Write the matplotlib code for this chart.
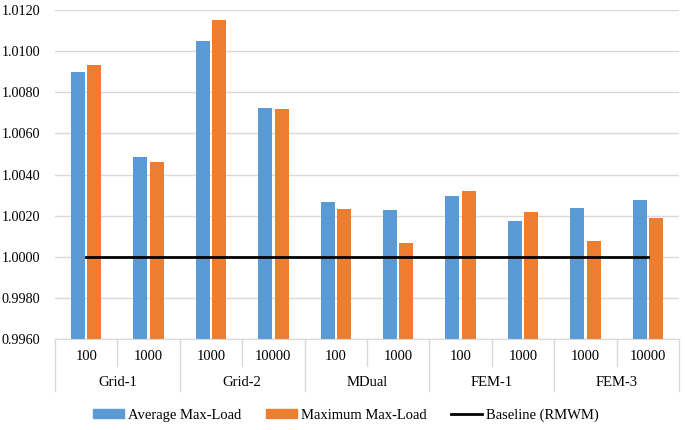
import matplotlib
matplotlib.use('Agg')
import matplotlib.pyplot as plt
import matplotlib.transforms as mtransforms
from matplotlib.patches import Patch
from matplotlib.lines import Line2D
import numpy as np

groups = ["Grid-1", "Grid-2", "MDual", "FEM-1", "FEM-3"]
sizes = ["100", "1000", "1000", "10000", "100", "1000", "100", "1000", "1000", "10000"]
average_max_load = [1.00900, 1.00485, 1.01048, 1.00724, 1.00268, 1.00227,
                    1.00297, 1.00172, 1.00238, 1.00276]
maximum_max_load = [1.00933, 1.00462, 1.01153, 1.00720, 1.00232, 1.00068,
                    1.00320, 1.00217, 1.00079, 1.00190]
baseline = 1.0
y_ticks = [0.9960, 0.9980, 1.0000, 1.0020, 1.0040, 1.0060, 1.0080, 1.0100, 1.0120]

plt.rcParams['font.family'] = ['Liberation Serif', 'DejaVu Serif']

BLUE = '#5B9BD5'
ORANGE = '#ED7D31'
GRID = '#D9D9D9'
FS = 10.5

fig = plt.figure(figsize=(6.85, 4.30), dpi=100)
ax = fig.add_axes([55 / 685, 1 - 339 / 430, 624 / 685, 329 / 430])

x = np.arange(len(sizes))
w = 0.225
gap = 0.04
ax.bar(x - (w + gap) / 2, np.array(average_max_load) - y_ticks[0], w,
       bottom=y_ticks[0], color=BLUE, zorder=2)
ax.bar(x + (w + gap) / 2, np.array(maximum_max_load) - y_ticks[0], w,
       bottom=y_ticks[0], color=ORANGE, zorder=2)
ax.plot([x[0], x[-1]], [baseline, baseline], color='black', lw=2, zorder=3)

ax.set_xlim(-0.5, len(sizes) - 0.5)
ax.set_ylim(y_ticks[0], y_ticks[-1])
ax.set_yticks(y_ticks)
ax.set_yticklabels([f"{v:.4f}" for v in y_ticks], fontsize=10.2, color='black')
ax.set_xticks([])
ax.tick_params(axis='y', length=0, pad=10.5)
ax.grid(axis='y', color=GRID, lw=1, zorder=0)
for s in ['top', 'right', 'left']:
    ax.spines[s].set_visible(False)
ax.spines['bottom'].set_color(GRID)

# two-level category axis
trans = mtransforms.blended_transform_factory(ax.transData, ax.transAxes)
px = 1 / 329
for i, lab in enumerate(sizes):
    ax.text(i, -17 * px, lab, transform=trans, ha='center', va='center',
            fontsize=FS, color='black')
for j, g in enumerate(groups):
    ax.text(2 * j + 0.5, -43 * px, g, transform=trans, ha='center', va='center',
            fontsize=FS, color='black')
for b in range(len(sizes) + 1):
    bx = b - 0.5
    y_end = -52 * px if b % 2 == 0 else -27 * px
    ax.plot([bx, bx], [0, y_end], transform=trans, color=GRID, lw=1, clip_on=False)

handles = [Patch(color=BLUE, label='Average Max-Load'),
           Patch(color=ORANGE, label='Maximum Max-Load'),
           Line2D([0], [0], color='black', lw=2, label='Baseline (RMWM)')]
fig.legend(handles=handles, loc='center', bbox_to_anchor=(346 / 685, 1 - 415 / 430),
           ncol=3, frameon=False, fontsize=FS, handlelength=2.1, handleheight=0.6,
           handletextpad=0.3, columnspacing=1.7)

fig.savefig('out.png', dpi=100)
